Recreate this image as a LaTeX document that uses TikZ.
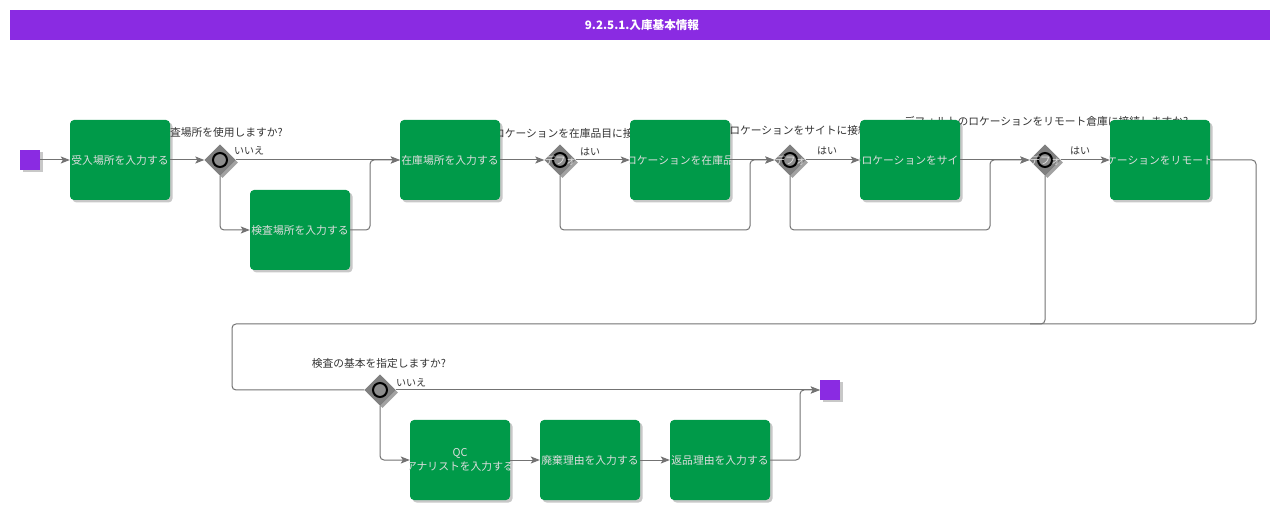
\documentclass[tikz,border=0pt]{standalone}
\usepackage{fontspec}
\setmainfont{Noto Sans CJK JP}
\usetikzlibrary{shapes.geometric,arrows.meta,shadows}
\definecolor{bpurple}{HTML}{8A2BE2}
\definecolor{bgreen}{HTML}{009A49}
\definecolor{linec}{HTML}{737373}
\definecolor{gwc}{HTML}{808080}
\definecolor{boxtext}{HTML}{DDDDDD}
\definecolor{labelc}{HTML}{333333}
\newcommand\boxtxt[2]{\begin{scope}\clip (#1.south west) rectangle (#1.north east);\node[btxt] at (#1.center) {#2};\end{scope}}
\newcommand\gwmark[2]{\draw[line width=2pt, fill=gwc!90!white, draw=black] (#1.center) circle (7);
  \begin{scope}\clip (#1.north) -- (#1.east) -- (#1.south) -- (#1.west) -- cycle;
  \node[gtxt, anchor=west] at (#1.west) {#2};\end{scope}}
\begin{document}
\begin{tikzpicture}[x=1pt,y=-1pt,
  shad/.style={drop shadow={shadow xshift=2.5pt, shadow yshift=-2.5pt, opacity=.3, fill=black!70}},
  box/.style={rectangle, minimum width=100pt, minimum height=80pt, inner sep=0pt, rounded corners=4pt, fill=bgreen, shad},
  btxt/.style={text=boxtext, font=\fontsize{10.8}{14}\selectfont, inner sep=0pt, align=center},
  gtxt/.style={text=boxtext, font=\fontsize{10.5}{12}\selectfont, inner sep=0pt},
  gw/.style={diamond, aspect=1, minimum width=31pt, minimum height=31pt, inner sep=0pt, fill=gwc, shad},
  term/.style={rectangle, minimum width=20pt, minimum height=20pt, inner sep=0pt, fill=bpurple, shad},
  lbl/.style={font=\fontsize{10.75}{12}\selectfont, text=labelc, inner sep=0pt},
  slbl/.style={font=\fontsize{10}{12}\selectfont, text=labelc, inner sep=0pt},
  flow/.style={draw=linec, line width=1pt, rounded corners=4pt},
  arr/.style={flow, -{Stealth[length=9pt,width=7pt,inset=2pt]}}
]
\useasboundingbox (0,0) rectangle (1280,510);
\fill[white] (0,0) rectangle (1280,510);
% title
\node[fill=bpurple, minimum width=1260pt, minimum height=30pt, inner sep=0pt] (title) at (640,25) {};
\node[text=white, font=\fontsize{11.6}{14}\selectfont\bfseries, inner sep=0pt] (ttext) at (642,25) {9.2.5.1.入庫基本情報};
% gateway question labels (behind boxes)
\node[lbl] (q1) at (221,132) {検査場所を使用しますか?};
\node[lbl] (q2) at (561,133) {デフォルトのロケーションを在庫品目に接続しますか?};
\node[lbl] (q3) at (791,130) {デフォルトのロケーションをサイトに接続しますか?};
\node[lbl] (q4) at (1046,121) {デフォルトのロケーションをリモート倉庫に接続しますか?};
\node[lbl] (q5) at (379,363) {検査の基本を指定しますか?};
% nodes
\node[term] (start) at (30,160) {};
\node[box] (A) at (120,160) {};
\node[gw] (G1) at (220,160) {};
\node[box] (B) at (300,230) {};
\node[box] (C) at (450,160) {};
\node[gw] (G2) at (560,160) {};
\node[box] (D) at (680,160) {};
\node[gw] (G3) at (790,160) {};
\node[box] (E) at (910,160) {};
\node[gw] (G4) at (1045,160) {};
\node[box] (F) at (1160,160) {};
\node[gw] (G5) at (380,390) {};
\node[box] (H) at (460,460) {};
\node[box] (I) at (590,460) {};
\node[box] (J) at (720,460) {};
\node[term] (stop) at (830,390) {};
% box texts (clipped)
\boxtxt{A}{受入場所を入力する}
\boxtxt{B}{検査場所を入力する}
\boxtxt{C}{在庫場所を入力する}
\boxtxt{D}{デフォルトのロケーションを在庫品目に接続する}
\boxtxt{E}{デフォルトのロケーションをサイトに接続する}
\boxtxt{F}{デフォルトのロケーションをリモート倉庫に接続する}
\boxtxt{H}{QC\\アナリストを入力する}
\boxtxt{I}{廃棄理由を入力する}
\boxtxt{J}{返品理由を入力する}
% connectors
\draw[arr] (start.east) -- (A.west);
\draw[arr] (A.east) -- (G1.west);
\draw[arr] (G1.east) -- (C.west);
\draw[arr] (G1.south) |- (B.west);
\draw[arr] (B.east) -- (370,230) -- (370,160) -- (C.west);
\draw[arr] (C.east) -- (G2.west);
\draw[arr] (G2.east) -- (D.west);
\draw[arr] (G2.south) -- (560,230) -- (750,230) -- (750,160) -- (G3.west);
\draw[arr] (D.east) -- (G3.west);
\draw[arr] (G3.east) -- (E.west);
\draw[arr] (G3.south) -- (790,230) -- (990,230) -- (990,160) -- (G4.west);
\draw[arr] (E.east) -- (G4.west);
\draw[arr] (G4.east) -- (F.west);
\draw[flow] (F.east) -- (1256,160) -- (1256,324) -- (232,324) -- (232,390) -- (G5.west);
\draw[flow] (G4.south) -- (1045,324) -- (1030,324);
\draw[arr] (G5.east) -- (stop.west);
\draw[arr] (G5.south) |- (H.west);
\draw[arr] (H.east) -- (I.west);
\draw[arr] (I.east) -- (J.west);
\draw[arr] (J.east) -- (800,460) -- (800,390) -- (stop.west);
% redraw gateways on top of lines
\node[gw] at (G1) {};
\node[gw] at (G2) {};
\node[gw] at (G3) {};
\node[gw] at (G4) {};
\node[gw] at (G5) {};
\gwmark{G1}{}
\gwmark{G2}{デフォルト}
\gwmark{G3}{デフォルト}
\gwmark{G4}{デフォルト}
\gwmark{G5}{}
% branch labels
\node[slbl] (l1) at (249,151) {いいえ};
\node[slbl] (l2) at (590,152) {はい};
\node[slbl] (l3) at (827,151) {はい};
\node[slbl] (l4) at (1080,151) {はい};
\node[slbl] (l5) at (411,383) {いいえ};
\end{tikzpicture}
\end{document}
